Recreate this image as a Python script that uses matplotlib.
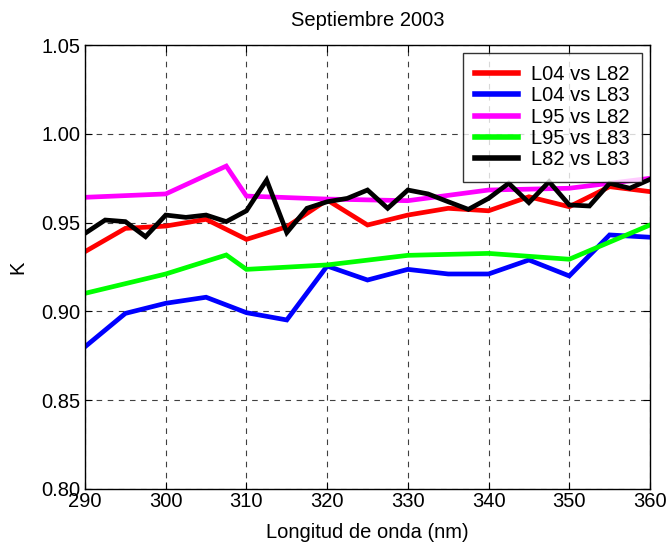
import matplotlib
matplotlib.use("Agg")
import matplotlib.pyplot as plt
import numpy as np

plt.rcParams['font.family'] = ['Liberation Sans', 'DejaVu Sans']

title = "Septiembre 2003"
xlabel = "Longitud de onda (nm)"
ylabel = "K"

# Series
x_5nm = [290, 295, 300, 305, 310, 315, 320, 325, 330, 335, 340, 345, 350, 355, 360]
l04_l82 = [0.9336, 0.9467, 0.9480, 0.9518, 0.9405, 0.9476, 0.9627, 0.9486, 0.9542,
           0.9580, 0.9566, 0.9645, 0.9589, 0.9702, 0.9674]
l04_l83 = [0.8800, 0.8988, 0.9045, 0.9079, 0.8992, 0.8951, 0.9255, 0.9176, 0.9236,
           0.9210, 0.9210, 0.9289, 0.9199, 0.9430, 0.9417]

x_l95 = [290, 300, 307.5, 310, 320, 330, 340, 350, 360]
l95_l82 = [0.9642, 0.9661, 0.9818, 0.9649, 0.9632, 0.9623, 0.9683, 0.9693, 0.9749]
l95_l83 = [0.9101, 0.9210, 0.9317, 0.9236, 0.9261, 0.9315, 0.9326, 0.9293, 0.9486]

x_2p5 = [290, 292.5, 295, 297.5, 300, 302.5, 305, 307.5, 310, 312.5, 315, 317.5,
         320, 322.5, 325, 327.5, 330, 332.5, 335, 337.5, 340, 342.5, 345, 347.5,
         350, 352.5, 355, 357.5, 360]
l82_l83 = [0.9439, 0.9514, 0.9505, 0.9420, 0.9542, 0.9529, 0.9542, 0.9505, 0.9566,
           0.9739, 0.9443, 0.9580, 0.9617, 0.9636, 0.9683, 0.9580, 0.9683, 0.9661,
           0.9617, 0.9574, 0.9636, 0.9721, 0.9612, 0.9730, 0.9599, 0.9593, 0.9721,
           0.9693, 0.9743]

labels = ["L04 vs L82", "L04 vs L83", "L95 vs L82", "L95 vs L83", "L82 vs L83"]
colors = ["#ff0000", "#0000ff", "#ff00ff", "#00ff00", "#000000"]

xticks = [290, 300, 310, 320, 330, 340, 350, 360]
yticks = [0.80, 0.85, 0.90, 0.95, 1.00, 1.05]

fig = plt.figure(figsize=(6.7, 5.43), dpi=100)
ax = fig.add_axes([0.1269, 0.0999, 0.8432, 0.8172])

series = [(x_5nm, l04_l82), (x_5nm, l04_l83), (x_l95, l95_l82), (x_l95, l95_l83), (x_2p5, l82_l83)]
for (xs, ys), lab, c in zip(series, labels, colors):
    ax.plot(xs, ys, color=c, lw=3.4, label=lab, solid_joinstyle='miter')

ax.set_xlim(290, 360)
ax.set_ylim(0.80, 1.05)
ax.set_xticks(xticks)
ax.set_yticks(yticks)
ax.set_xticklabels([str(v) for v in xticks])
ax.set_yticklabels([f"{v:.2f}" for v in yticks])
ax.tick_params(direction='in', top=True, right=True, length=5, width=0.8,
               labelsize=14.5, pad=3)
ax.tick_params(axis='x', pad=2)
ax.grid(True, color='0.25', linestyle=(0, (5, 5)), linewidth=0.8)
for s in ax.spines.values():
    s.set_linewidth(1.0)
    s.set_color('black')

ax.set_title(title, fontsize=14.5, pad=14)
ax.set_xlabel(xlabel, fontsize=14.5, labelpad=9)
ax.set_ylabel(ylabel, fontsize=14.5, labelpad=10)

leg = ax.legend(loc='upper right', bbox_to_anchor=(0.9855, 0.9826), fontsize=14.5,
                frameon=True, fancybox=False, borderaxespad=0, handlelength=2.15,
                handletextpad=0.65, labelspacing=0.12, borderpad=0.6)
leg.get_frame().set_edgecolor('black')
leg.get_frame().set_linewidth(1.0)
for h in leg.get_lines():
    h.set_linewidth(4)

fig.savefig("out.png", dpi=100)
